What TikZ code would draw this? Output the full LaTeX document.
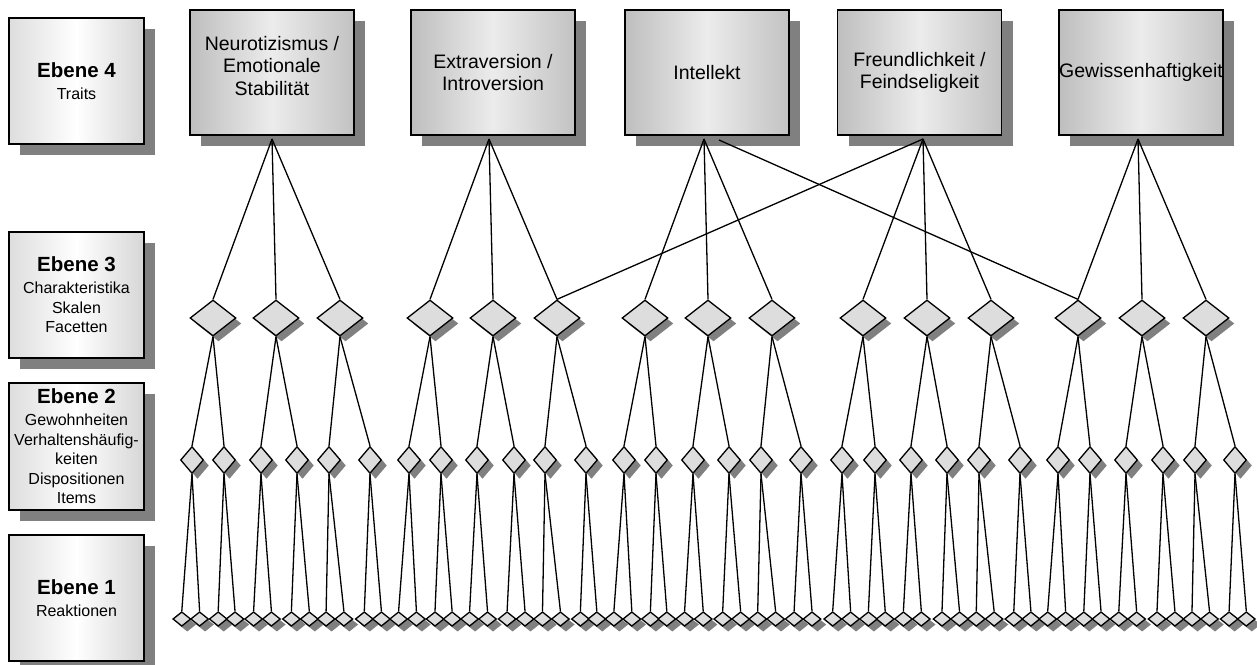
\documentclass[tikz,border=0pt]{standalone}
\usepackage{fontspec}
\setmainfont{Liberation Sans}
\usetikzlibrary{shapes.geometric,shadows}

\definecolor{shadowgray}{HTML}{808080}
\definecolor{gemfill}{HTML}{DDDDDD}
\definecolor{lvedge}{HTML}{DDDDDD}
\definecolor{lvedgeR}{HTML}{D6D6D6}
\definecolor{trl}{HTML}{BEBEBE}
\definecolor{trm}{HTML}{ECECEC}
\definecolor{trr}{HTML}{C2C2C2}

\begin{document}
\begin{tikzpicture}[x=1pt,y=-1pt,
  edge/.style={line width=1.3pt, black},
  boxshadow/.style={drop shadow={shadow xshift=11pt, shadow yshift=-11pt, fill=shadowgray, opacity=1}},
  levelbox/.style={draw, line width=1.3pt, minimum width=135pt, minimum height=126pt,
    inner sep=0pt, align=center, left color=lvedge, right color=lvedgeR, middle color=white,
    boxshadow, font=\fontsize{16}{19.5}\selectfont},
  trait/.style={draw, line width=1.3pt, minimum width=164pt, minimum height=125pt,
    inner sep=0pt, align=center, left color=trl, right color=trr, middle color=trm,
    boxshadow, font=\fontsize{19.5}{22.5}\selectfont},
  gem/.style={diamond, draw, line width=1.3pt, fill=gemfill, inner sep=0pt,
    drop shadow={shadow xshift=5.5pt, shadow yshift=-5.5pt, fill=shadowgray, opacity=1}},
  facet/.style={gem, minimum width=46pt, minimum height=36pt},
  habit/.style={gem, minimum width=23pt, minimum height=27pt},
  react/.style={gem, minimum width=18pt, minimum height=14.5pt}
]
\useasboundingbox (0,0) rectangle (1257,664);

% level descriptions
\node[levelbox] (E4) at (76.5,81) {\textbf{\fontsize{20.5}{22}\selectfont Ebene 4}\\[2.5pt]Traits};
\node[levelbox] (E3) at (76.5,295) {\textbf{\fontsize{20.5}{22}\selectfont Ebene 3}\\[2.5pt]Charakteristika\\Skalen\\Facetten};
\node[levelbox, minimum height=127pt] (E2) at (76.5,446.5) {\textbf{\fontsize{20.5}{22}\selectfont Ebene 2}\\[2.5pt]Gewohnheiten\\Verhaltenshäufig-\\keiten\\Dispositionen\\Items};
\node[levelbox] (E1) at (76.5,598) {\textbf{\fontsize{20.5}{22}\selectfont Ebene 1}\\[2.5pt]Reaktionen};

% traits
\node[trait, text depth=14pt] (T1) at (272,72.5) {Neurotizismus /\\Emotionale\\Stabilität};
\node[trait] (T2) at (493,72.5) {Extraversion /\\Introversion};
\node[trait] (T3) at (707,72.5) {Intellekt};
\node[trait] (T4) at (919.5,72.5) {Freundlichkeit /\\Feindseligkeit};
\node[trait] (T5) at (1141,72.5) {Gewissenhaftigkeit};

% junction points below the trait boxes
\coordinate (A1) at (272,139);
\coordinate (A2) at (489,139);
\coordinate (A3) at (704,139);
\coordinate (A4) at (923,139);
\coordinate (A5) at (1138,139);
\coordinate (A3x) at (719,140);

% level 3: characteristics / facets
\foreach \x [count=\i] in {213,276,340,430,493,557,645,708,772,863,927,991,1078,1142,1206}
  \node[facet] (f\i) at (\x,318) {};

% level 2: habits / items
\foreach \x [count=\i] in {192,224,261,297,329,370,409,441,477,514,545,586,624,656,693,
                          729,761,801,842,875,911,947,979,1020,1058,1090,1126,1163,1195,1235}
  \node[habit] (h\i) at (\x,460) {};

% level 1: reactions
\foreach \x [count=\i] in {181.8,199.6,218.2,235,253.6,271.4,291.4,309.3,326.1,343.9,
    364.3,381.4,398.6,416.4,435,452.1,469.6,487.5,507.1,525,
    542.5,560.4,580.4,596.8,613.9,631.8,650.4,666.8,684.6,703.2,
    722.7,740.6,757.7,775.6,794.1,812,832.7,850.6,868.4,885.2,
    903.4,921.3,942,959.5,976.3,994.1,1013.8,1030.9,1047.7,1065.6,
    1083.8,1101,1118.8,1136.6,1157,1174.9,1192,1209.5,1229.1,1246.3}
  \node[react] (r\i) at (\x,619) {};

% traits to facets
\foreach \t in {1,...,5}
  \foreach \k in {1,2,3} {
    \pgfmathtruncatemacro\n{3*(\t-1)+\k}
    \draw[edge] (A\t) -- (f\n.north);
  }
\draw[edge] (A4) -- (f6.north);
\draw[edge] (A3x) -- (f13.north);

% facets to habits
\foreach \i in {1,...,15} {
  \pgfmathtruncatemacro\a{2*\i-1}
  \pgfmathtruncatemacro\b{2*\i}
  \draw[edge] (f\i.south) -- (h\a.north);
  \draw[edge] (f\i.south) -- (h\b.north);
}

% habits to reactions
\foreach \i in {1,...,30} {
  \pgfmathtruncatemacro\a{2*\i-1}
  \pgfmathtruncatemacro\b{2*\i}
  \draw[edge] (h\i.south) -- (r\a.north);
  \draw[edge] (h\i.south) -- (r\b.north);
}
\end{tikzpicture}
\end{document}
